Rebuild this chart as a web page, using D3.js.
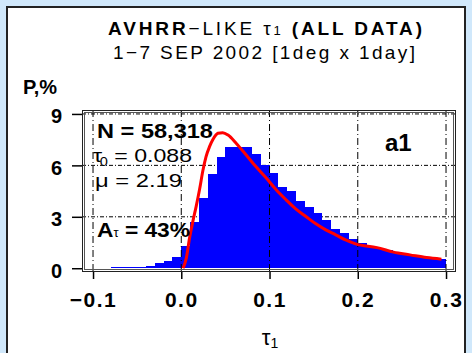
<!DOCTYPE html>
<html><head><meta charset="utf-8">
<script src="https://cdn.jsdelivr.net/npm/d3@7"></script>
<style>
html,body{margin:0;padding:0;background:#d0e8fb;}
svg{display:block;}
text{font-family:"Liberation Sans",Arial,Helvetica,sans-serif;fill:#000;}
</style></head><body>
<script>
// ---- data ----
const binLo = [-0.08,-0.07,-0.06,-0.05,-0.04,-0.03,-0.02,-0.01,0.00,0.01,0.02,0.03,0.04,0.05,0.06,0.07,0.08,0.09,0.10,0.11,0.12,0.13,0.14,0.15,0.16,0.17,0.18,0.19,0.20,0.21,0.22,0.23,0.24,0.25,0.26,0.27,0.28,0.29];
const binPct = [0.05,0.05,0.05,0.06,0.15,0.28,0.45,0.68,1.28,2.7,4.09,5.51,6.5,7.05,7.05,7.05,6.65,6.0,5.56,4.74,4.5,3.9,3.57,3.2,2.8,2.28,2.05,1.7,1.45,1.3,1.18,1.05,0.95,0.85,0.77,0.68,0.6,0.52];
const binWidth = 0.01;
const fitTau = [0.002,0.0057,0.0094,0.0132,0.017,0.0208,0.0245,0.028,0.032,0.036,0.0415,0.047,0.053,0.0624,0.0738,0.085,0.0963,0.1075,0.1188,0.13,0.1412,0.1525,0.1637,0.175,0.1862,0.1975,0.2218,0.2405,0.2592,0.278,0.2948];
const fitPct = [0,0.59,1.77,2.75,3.64,4.62,5.7,6.5,7.09,7.52,7.87,7.91,7.77,7.28,6.59,5.9,5.26,4.58,3.99,3.45,3.02,2.59,2.24,1.95,1.65,1.42,1.2,0.94,0.78,0.62,0.53];
const xTicks = [-0.1,0.0,0.1,0.2,0.3];
const xTickLabels = ["\u22120.1","0.0","0.1","0.2","0.3"];
const yTicks = [0,3,6,9];
const yTickLabels = ["0","3","6","9"];

const W = 472, H = 353;
const svg = d3.select("body").append("svg").attr("width",W).attr("height",H);

// panel
svg.append("rect").attr("x",7).attr("y",7).attr("width",458).attr("height",360)
  .attr("fill","#fff").attr("stroke","#222").attr("stroke-width",2);

// titles
const t1 = svg.append("text").attr("x",265).attr("y",35).attr("text-anchor","middle")
  .attr("font-size",19).attr("textLength",314).attr("lengthAdjust","spacing");
t1.append("tspan").attr("font-weight","bold").text("AVHRR");
t1.append("tspan").text("\u2212LIKE  \u03c4");
t1.append("tspan").attr("font-size",13).text("1");
t1.append("tspan").attr("font-weight","bold").text(" (ALL DATA)");
svg.append("text").attr("x",264).attr("y",59).attr("text-anchor","middle")
  .attr("font-size",19).attr("textLength",302).attr("lengthAdjust","spacing")
  .text("1\u22127 SEP 2002 [1deg x 1day]");
svg.append("text").attr("x",23).attr("y",94).attr("font-size",20).attr("font-weight","bold").text("P,%");

// scales
const L = 82, R = 456, T = 110, B = 272;
const x = d3.scaleLinear().domain([-0.1125,0.3113]).range([L,R]);
const y = d3.scaleLinear().domain([-0.22,9.23]).range([B,T]);

// horizontal grid (behind bars)
svg.append("g").selectAll("line").data(yTicks.filter(d=>d>0)).join("line")
  .attr("x1",L).attr("x2",R).attr("y1",d=>y(d)).attr("y2",d=>y(d))
  .attr("stroke","#000").attr("stroke-width",1).attr("stroke-dasharray","4,2,1,2");

// bars
svg.append("g").selectAll("rect").data(binLo).join("rect")
  .attr("x",(d)=>x(d)).attr("width",(d)=>x(d+binWidth)-x(d))
  .attr("y",(d,i)=>y(binPct[i])).attr("height",(d,i)=>y(0)-y(binPct[i]))
  .attr("fill","#0000ff").attr("shape-rendering","crispEdges");

// vertical grid (over bars)
svg.append("g").selectAll("line").data(xTicks).join("line")
  .attr("x1",d=>x(d)).attr("x2",d=>x(d)).attr("y1",T).attr("y2",B)
  .attr("stroke","#000").attr("stroke-width",1).attr("stroke-dasharray","7,3,1,3");

// fit curve
const line = d3.line().x((d,i)=>x(fitTau[i])).y((d,i)=>y(fitPct[i])).curve(d3.curveMonotoneX);
svg.append("path").datum(fitPct).attr("d",line).attr("fill","none")
  .attr("stroke","#ff0000").attr("stroke-width",3).attr("stroke-linejoin","round");

// frame (double)
svg.append("rect").attr("x",L+0.5).attr("y",T+0.5).attr("width",R-L-1).attr("height",B-T-1)
  .attr("fill","none").attr("stroke","#222").attr("stroke-width",1);
svg.append("rect").attr("x",L+2.5).attr("y",T+2.5).attr("width",R-L-5).attr("height",B-T-5)
  .attr("fill","none").attr("stroke","#555").attr("stroke-width",1);

// axes
const ax = svg.append("g").attr("transform",`translate(0,${B})`)
  .call(d3.axisBottom(x).tickValues(xTicks).tickSize(7).tickFormat((d,i)=>xTickLabels[i]));
ax.select(".domain").remove();
ax.selectAll(".tick line").attr("stroke","#000").attr("stroke-width",1.5);
ax.selectAll(".tick text").attr("y",34.5).attr("dy",0).attr("font-size",21).attr("font-weight","bold")
  .attr("font-family","'Liberation Sans',Arial,sans-serif").style("letter-spacing","1.5px").attr("fill","#000");

const ay = svg.append("g").attr("transform",`translate(${L},0)`)
  .call(d3.axisLeft(y).tickValues(yTicks).tickSize(10).tickFormat((d,i)=>yTickLabels[i]));
ay.select(".domain").remove();
ay.selectAll(".tick line").attr("stroke","#000").attr("stroke-width",1.5);
ay.selectAll(".tick text").attr("x",-20).attr("dy","0.45em").attr("font-size",20).attr("font-weight","bold")
  .attr("font-family","'Liberation Sans',Arial,sans-serif").attr("fill","#000");

// x-axis title
const xt = svg.append("text").attr("x",270).attr("y",345).attr("text-anchor","middle").attr("font-size",22);
xt.append("tspan").text("\u03c4");
xt.append("tspan").attr("font-size",14).attr("dy",3).text("1");

// annotations
svg.append("text").attr("x",97).attr("y",138).attr("font-size",21).attr("font-weight","bold")
  .attr("textLength",116).attr("lengthAdjust","spacingAndGlyphs").text("N = 58,318");
const tg = svg.append("text").attr("x",93).attr("y",162).attr("font-size",19)
  .attr("textLength",99).attr("lengthAdjust","spacingAndGlyphs");
tg.append("tspan").text("\u03c4");
tg.append("tspan").attr("font-size",12).attr("dy",4).attr("dx",-2).text("0");
tg.append("tspan").attr("dy",-4).text(" = 0.088");
svg.append("text").attr("x",95).attr("y",187).attr("font-size",19)
  .attr("textLength",87).attr("lengthAdjust","spacingAndGlyphs").text("\u03bc = 2.19");
const at = svg.append("text").attr("x",97).attr("y",237).attr("font-size",21).attr("font-weight","bold")
  .attr("textLength",93).attr("lengthAdjust","spacingAndGlyphs");
at.append("tspan").text("A");
at.append("tspan").attr("font-size",12).attr("font-weight","normal").text("\u03c4");
at.append("tspan").text(" = 43%");
svg.append("text").attr("x",385).attr("y",151).attr("font-size",24).attr("font-weight","bold").text("a1");
</script>
</body></html>
